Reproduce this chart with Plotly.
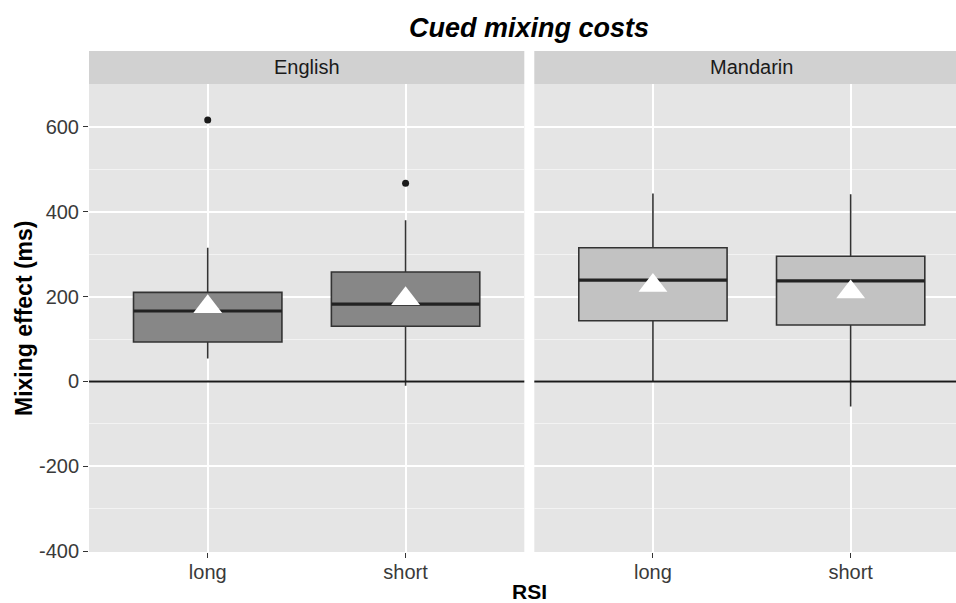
import plotly.graph_objects as go

# ---------------- data ----------------
languages = ["English", "Mandarin"]
rsi_levels = ["long", "short"]
x_pos = [1, 2]

# box statistics per language, per RSI level (long, short)
q1 = {"English": [93, 130], "Mandarin": [143, 133]}
median = {"English": [166, 182], "Mandarin": [239, 237]}
q3 = {"English": [210, 258], "Mandarin": [315, 295]}
lower_whisker = {"English": [54, -10], "Mandarin": [0, -59]}
upper_whisker = {"English": [315, 380], "Mandarin": [443, 441]}
means = {"English": [176, 195], "Mandarin": [226, 211]}
outliers = {"English": [[616], [467]], "Mandarin": [[], []]}

y_ticks = [-400, -200, 0, 200, 400, 600]
y_tick_labels = ["-400", "-200", "0", "200", "400", "600"]
y_minor = [-300, -100, 100, 300, 500]
ref_line = 0

# ---------------- styles ----------------
W, H = 956, 603
ML, MR, MT, MB = 89, 0, 84, 51
PW = W - ML - MR
PH = H - MT - MB
FONT = "Liberation Sans"
BOX_W = 0.75
fills = {"English": "#878787", "Mandarin": "#c2c2c2"}
panel_bg = "#e5e5e5"
strip_bg = "#d1d1d1"
edge = "#333333"
txt = "#3a3a3a"

def px_x(p):
    return (p - ML) / PW

def px_y(p):
    return (H - MB - p) / PH

dom1 = [0.0, px_x(524.3)]
dom2 = [px_x(534.3), 1.0]
unit = (524.3 - 89.3) / 2.2
x1_range = [0.4, 2.6]
x2_range = [0.4, 0.4 + (W - 534.3) / unit]

fig = go.Figure()
axes = {"English": "x", "Mandarin": "x2"}

for lang in languages:
    xa = axes[lang]
    fig.add_trace(go.Box(
        x=x_pos, q1=q1[lang], median=median[lang], q3=q3[lang],
        lowerfence=lower_whisker[lang], upperfence=upper_whisker[lang],
        width=BOX_W, whiskerwidth=0, fillcolor=fills[lang],
        line=dict(color=edge, width=1.6), boxpoints=False,
        xaxis=xa, yaxis="y", showlegend=False, hoverinfo="skip"))
    # thicker median lines
    for xp, m in zip(x_pos, median[lang]):
        fig.add_trace(go.Scatter(
            x=[xp - BOX_W / 2, xp + BOX_W / 2], y=[m, m], mode="lines",
            line=dict(color="#222222", width=3.2),
            xaxis=xa, yaxis="y", showlegend=False, hoverinfo="skip"))
    # outliers
    ox, oy = [], []
    for xp, pts in zip(x_pos, outliers[lang]):
        for v in pts:
            ox.append(xp)
            oy.append(v)
    if ox:
        fig.add_trace(go.Scatter(
            x=ox, y=oy, mode="markers",
            marker=dict(color="#1a1a1a", size=7),
            xaxis=xa, yaxis="y", showlegend=False, hoverinfo="skip"))
    # means
    fig.add_trace(go.Scatter(
        x=x_pos, y=means[lang], mode="markers",
        marker=dict(symbol="triangle-up", color="white", size=25,
                    line=dict(width=0)),
        xaxis=xa, yaxis="y", showlegend=False, hoverinfo="skip"))

xaxis_common = dict(
    tickmode="array", tickvals=x_pos, ticktext=rsi_levels,
    showgrid=True, gridcolor="white", gridwidth=2,
    zeroline=False, showline=False,
    ticks="outside", ticklen=5, tickwidth=1, tickcolor=edge,
    ticklabelstandoff=-3,
    tickfont=dict(family=FONT, size=20, color=txt),
    fixedrange=True,
)

fig.update_layout(
    width=W, height=H,
    margin=dict(l=ML, r=MR, t=MT, b=MB),
    paper_bgcolor="white", plot_bgcolor=panel_bg,
    xaxis=dict(domain=dom1, range=x1_range, anchor="y", **xaxis_common),
    xaxis2=dict(domain=dom2, range=x2_range, anchor="y", **xaxis_common),
    yaxis=dict(
        range=[-402, 701], tickmode="array", tickvals=y_ticks,
        ticktext=y_tick_labels,
        showgrid=True, gridcolor="white", gridwidth=2,
        minor=dict(tickmode="array", tickvals=y_minor, showgrid=True,
                   gridcolor="#f3f3f3", gridwidth=1, ticks=""),
        zeroline=False, showline=False,
        ticks="outside", ticklen=5, tickwidth=1, tickcolor=edge,
        tickfont=dict(family=FONT, size=20, color=txt),
        anchor="x", fixedrange=True,
    ),
    showlegend=False,
)

shapes = []
annotations = []
for lang in languages:
    xa = axes[lang]
    # strip background
    shapes.append(dict(type="rect", xref=f"{xa} domain", yref="paper",
                       x0=0, x1=1, y0=1.0, y1=px_y(51),
                       fillcolor=strip_bg, line=dict(width=0)))
    # reference line at zero
    shapes.append(dict(type="line", xref=f"{xa} domain", yref="y",
                       x0=0, x1=1, y0=ref_line, y1=ref_line,
                       line=dict(color="#1a1a1a", width=2)))
    annotations.append(dict(text=lang, xref=xa, yref="paper",
                            x=(x1_range[0] + x1_range[1]) / 2, y=px_y(67.5),
                            showarrow=False, xanchor="center", yanchor="middle",
                            font=dict(family=FONT, size=20, color="#1a1a1a")))

annotations.append(dict(text="Cued mixing costs", xref="paper", yref="paper",
                        x=px_x(529.3), y=px_y(28), showarrow=False,
                        xanchor="center", yanchor="middle",
                        font=dict(family=FONT, size=27, color="black",
                                  weight="bold", style="italic")))
annotations.append(dict(text="RSI", xref="paper", yref="paper",
                        x=px_x(529.3), y=px_y(591), showarrow=False,
                        xanchor="center", yanchor="middle",
                        font=dict(family=FONT, size=21, color="black",
                                  weight="bold")))
annotations.append(dict(text="Mixing effect (ms)", xref="paper", yref="paper",
                        x=px_x(24), y=px_y(318), showarrow=False, textangle=-90,
                        xanchor="center", yanchor="middle",
                        font=dict(family=FONT, size=23, color="black",
                                  weight="bold")))

fig.update_layout(shapes=shapes, annotations=annotations)
fig.write_html("out.html", config={"displayModeBar": False},
               post_script="document.body.style.margin='0';document.body.style.overflow='hidden';")
